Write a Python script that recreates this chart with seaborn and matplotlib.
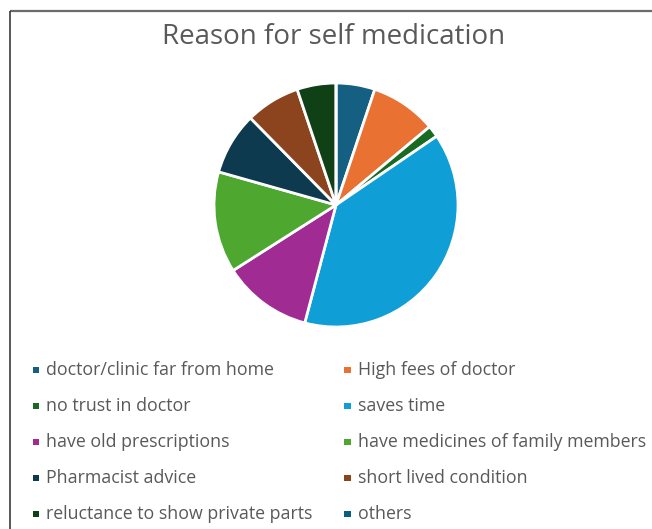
import matplotlib
matplotlib.use("Agg")
import matplotlib.pyplot as plt
import seaborn as sns
from matplotlib.patches import Rectangle

categories = [
    "doctor/clinic far from home", "High fees of doctor",
    "no trust in doctor", "saves time",
    "have old prescriptions", "have medicines of family members",
    "Pharmacist advice", "short lived condition",
    "reluctance to show private parts", "others",
]
values = [10, 17, 3, 75, 23, 26, 16, 14, 10, 0]
colors = ["#156082", "#E97132", "#196B24", "#0F9ED5", "#A02B93",
          "#4EA72E", "#0D3A4E", "#8C441E", "#0F4016", "#095F80"]
title = "Reason for self medication"

sns.set_theme(style="white")
plt.rcParams["font.family"] = ["Open Sans", "DejaVu Sans"]

W, H, DPI = 652, 529, 100
fig = plt.figure(figsize=(W / DPI, H / DPI), dpi=DPI)
fig.patch.set_facecolor("white")

# pie axes (pixel based placement)
cx, cy, r = 336, 205, 122
pie_ax = fig.add_axes([(cx - r) / W, (H - cy - r) / H, 2 * r / W, 2 * r / H])
pie_ax.pie(values, colors=colors, startangle=90, counterclock=False,
           wedgeprops=dict(edgecolor="white", linewidth=2.0))
pie_ax.set_xlim(-1, 1)
pie_ax.set_ylim(-1, 1)
pie_ax.set_aspect("equal")
pie_ax.axis("off")

# overlay axes in pixel coordinates
ov = fig.add_axes([0, 0, 1, 1], zorder=-1)
ov.set_xlim(0, W)
ov.set_ylim(H, 0)
ov.axis("off")

ov.plot([10, W], [11, 11], color="#6b6b6b", lw=1.6, solid_capstyle="butt")
ov.plot([10, 10], [11, H], color="#2a2a2a", lw=1.1, solid_capstyle="butt")

ov.text(334, 37, title, ha="center", va="center", fontsize=20, color="#595959")

for i, lab in enumerate(categories):
    col, row = i % 2, i // 2
    mx = [32.7, 344][col]
    tx = [46.5, 358][col]
    y = 370 + 36 * row
    ov.add_patch(Rectangle((mx, y - 3.2), 6.5, 6.5, facecolor=colors[i], edgecolor="none"))
    ov.text(tx, y, lab, ha="left", va="center", fontsize=12.8, color="#595959")

fig.savefig("out.png", dpi=DPI, facecolor="white")
